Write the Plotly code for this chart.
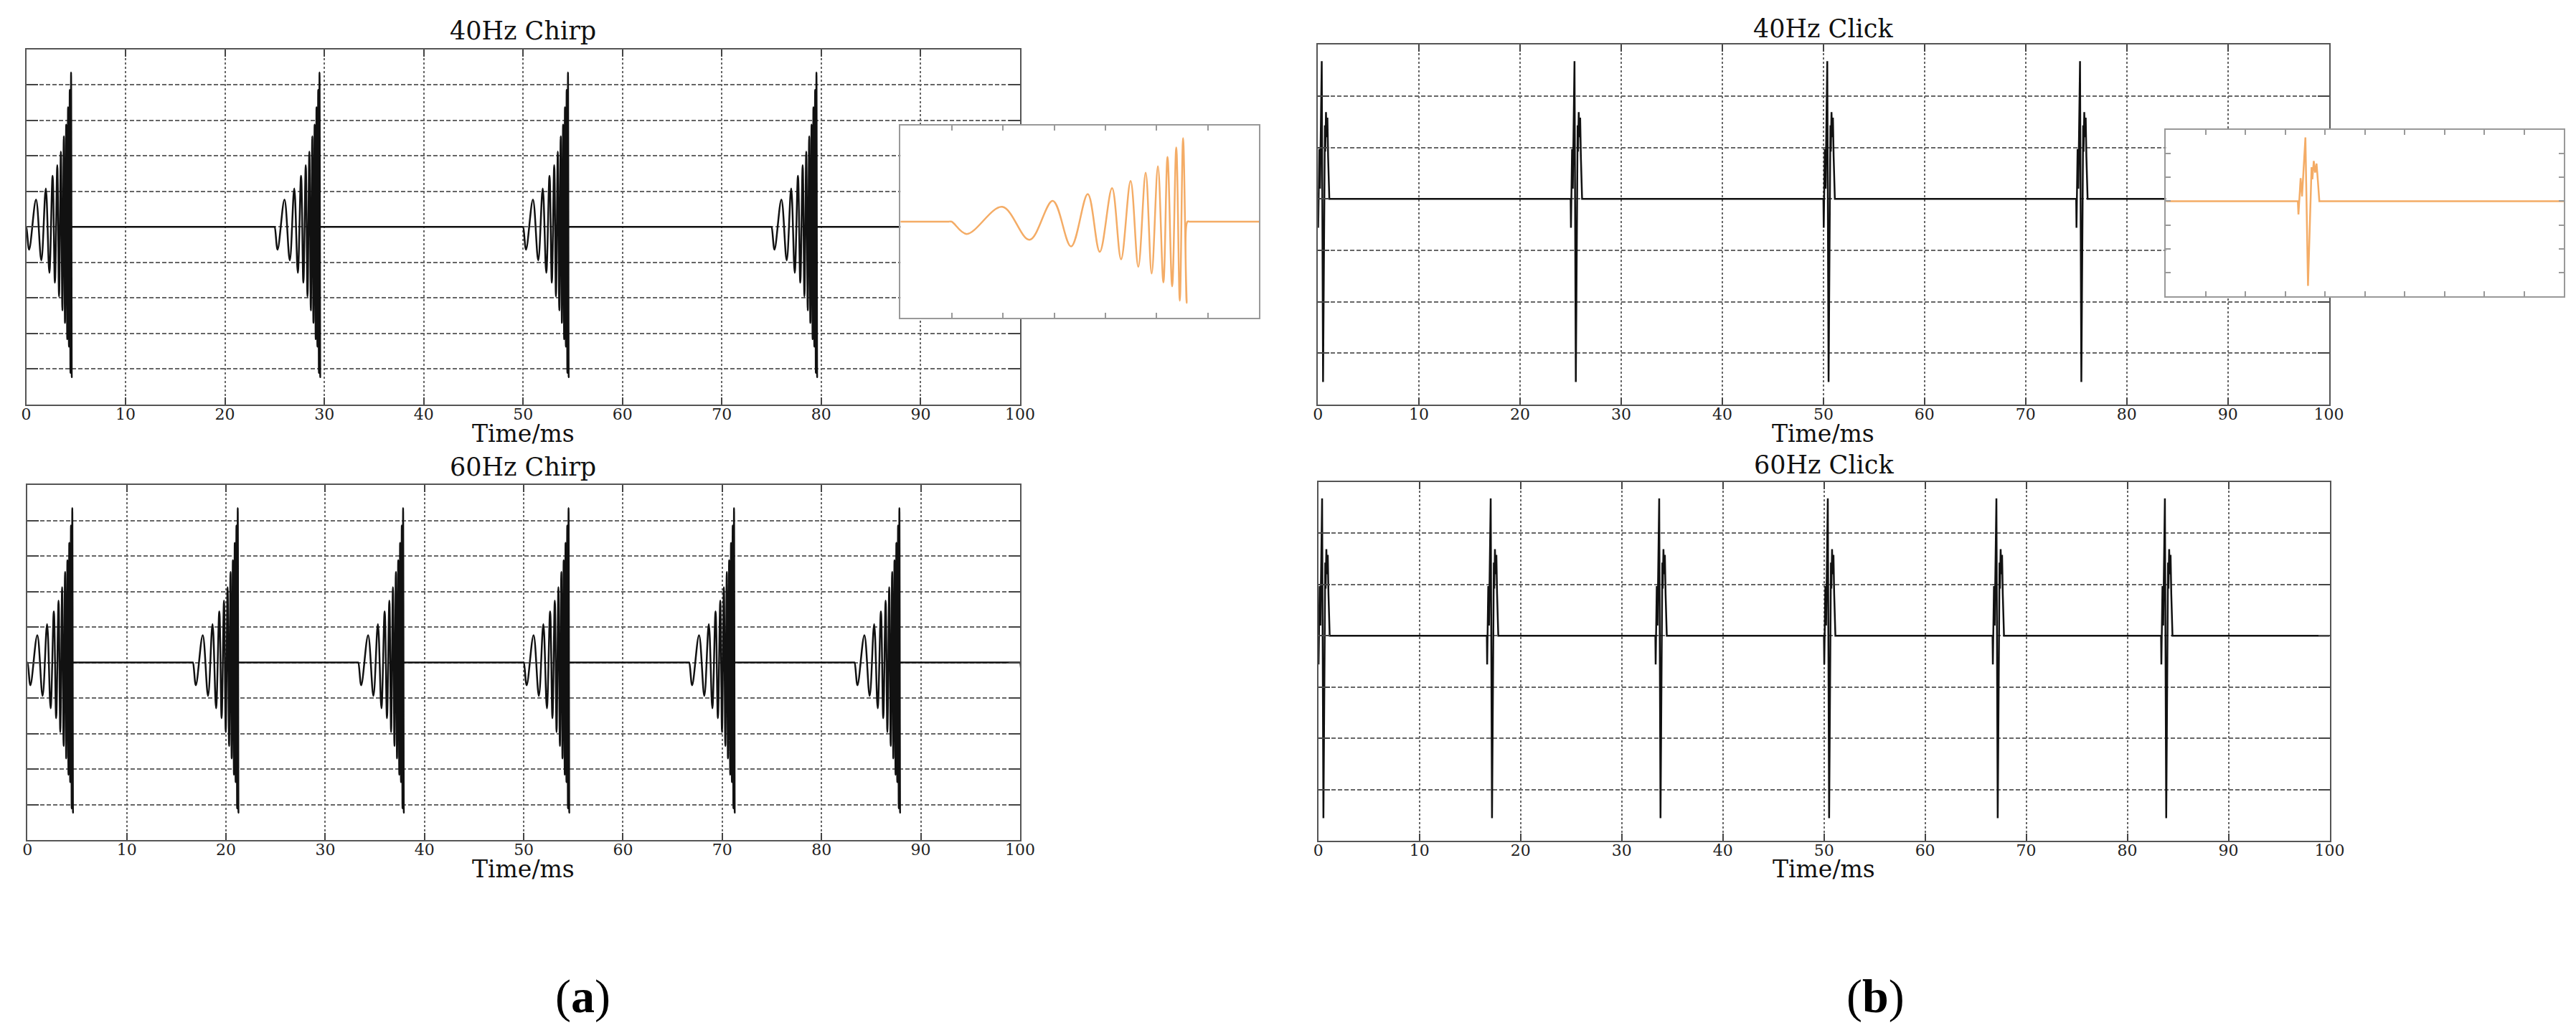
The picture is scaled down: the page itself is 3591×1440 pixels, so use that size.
import plotly.graph_objects as go

W, H = 3591, 1440

# ---------------- data ----------------
# One chirp burst: extrema, time after burst onset (ms) and amplitude (grid units)
chirp_t = [-0.05, 0.000, 0.293, 0.986, 1.519, 1.972, 2.329, 2.655, 2.889, 3.129, 3.305, 3.491,
           3.641, 3.785, 3.902, 4.024, 4.131, 4.211, 4.302, 4.382, 4.451, 4.515, 4.584,
           4.600, 4.650]
chirp_v = [0.00, 0.00, -0.64, 0.77, -0.94, 1.08, -1.29, 1.44, -1.57, 1.74, -1.96, 2.12,
           -2.35, 2.55, -2.70, 2.88, -3.16, 3.37, -3.37, 3.86, -4.11, 4.35, -4.23,
           0.00, 0.00]

# One click: time after click onset (ms) and amplitude (grid units)
click_t = [-0.05, 0.00, 0.03, 0.08, 0.14, 0.21, 0.38, 0.51, 0.69, 0.73, 0.80, 0.87,
           0.94, 1.01, 1.08, 1.13]
click_v = [0.00, 0.00, -0.56, 0.20, 0.97, 0.20, 2.68, -3.56, 1.43, 0.92, 1.69, 1.20,
           1.58, 0.82, 0.00, 0.00]

# Burst / click onset times (ms)
chirp40_onsets = [0, 25, 50, 75]
chirp60_onsets = [0, 16.67, 33.33, 50, 66.67, 83.33, 100]
click40_onsets = [0, 25, 50, 75]
click60_onsets = [0, 16.67, 33.33, 50, 66.67, 83.33]

titles = ["40Hz Chirp", "60Hz Chirp", "40Hz Click", "60Hz Click"]
x_title = "Time/ms"
panel_labels = ["(<b>a</b>)", "(<b>b</b>)"]
x_ticks = [0, 10, 20, 30, 40, 50, 60, 70, 80, 90, 100]


def tile(onsets, rel_t, rel_v, t_end=100):
    xs, ys = [], []
    for o in onsets:
        xs += [o + t for t in rel_t]
        ys += list(rel_v)
    xs.append(t_end)
    ys.append(0.0)
    return xs, ys


# ---------------- layout boxes (pixels: left, right, top, bottom) ----------------
boxes = {
    "a_top": (21.7, 1418, 60.7, 556),
    "a_bot": (23.5, 1418, 668, 1163),
    "b_top": (1836.5, 3257, 54.3, 556),
    "b_bot": (1837, 3258, 664, 1164),
    "ins_a": (1250, 1754, 167, 435),
    "ins_b": (3028, 3587, 173, 405),
}


def dom(box):
    l, r, t, b = box
    return [l / W, r / W], [1 - b / H, 1 - t / H]


FONT = "DejaVu Serif"
fig = go.Figure()

main_panels = [
    ("a_top", "x", "y", chirp40_onsets, chirp_t, chirp_v, [-5, 5], "spline"),
    ("a_bot", "x2", "y2", chirp60_onsets, chirp_t, chirp_v, [-5, 5], "spline"),
    ("b_top", "x3", "y3", click40_onsets, click_t, click_v, [-4, 3], "linear"),
    ("b_bot", "x4", "y4", click60_onsets, click_t, click_v, [-4, 3], "linear"),
]

layout = dict(
    width=W, height=H, margin=dict(l=0, r=0, t=0, b=0),
    paper_bgcolor="white", plot_bgcolor="white", showlegend=False,
)

for i, (key, xa, ya, ons, rt, rv, yr, shape) in enumerate(main_panels):
    xs, ys = tile(ons, rt, rv)
    fig.add_trace(go.Scatter(x=xs, y=ys, mode="lines", xaxis=xa, yaxis=ya,
                             line=dict(color="#111111", width=2.5, shape=shape),
                             hoverinfo="skip"))
    dx, dy = dom(boxes[key])
    xname = "xaxis" if xa == "x" else "xaxis" + xa[1:]
    yname = "yaxis" if ya == "y" else "yaxis" + ya[1:]
    layout[xname] = dict(
        domain=dx, anchor=ya, range=[0, 100], autorange=False,
        tickmode="array", tickvals=x_ticks, ticktext=[str(v) for v in x_ticks],
        showgrid=True, gridcolor="#666666", gridwidth=1.5, griddash="3px,3px",
        showline=True, linecolor="#555555", linewidth=2, mirror="ticks",
        ticks="inside", ticklen=10, tickwidth=2, tickcolor="#444444",
        ticklabelstandoff=-7,
        tickfont=dict(family=FONT, size=22, color="#222222"), zeroline=False,
    )
    layout[yname] = dict(
        domain=dy, anchor=xa, range=yr, autorange=False, dtick=1, tick0=0,
        showgrid=True, gridcolor="#666666", gridwidth=1.5, griddash="6px,3px",
        showline=True, linecolor="#555555", linewidth=2, mirror="ticks",
        ticks="inside", ticklen=16, tickwidth=2, tickcolor="#444444",
        showticklabels=False, zeroline=False,
    )

# ---------------- insets ----------------
# Inset a: one chirp burst
fig.add_trace(go.Scatter(x=chirp_t + [6.0], y=chirp_v + [0.0], mode="lines",
                         xaxis="x5", yaxis="y5",
                         line=dict(color="#F4AC66", width=2.5, shape="spline"),
                         hoverinfo="skip"))
fig.add_trace(go.Scatter(x=[-1.0, -0.05], y=[0.0, 0.0], mode="lines",
                         xaxis="x5", yaxis="y5",
                         line=dict(color="#F4AC66", width=2.5), hoverinfo="skip"))
dx, dy = dom(boxes["ins_a"])
layout["xaxis5"] = dict(domain=dx, anchor="y5", range=[-1, 6], autorange=False,
                        dtick=1, tick0=-1, showgrid=False, zeroline=False,
                        showline=True, linecolor="#999999", linewidth=2, mirror="ticks",
                        ticks="inside", ticklen=7, tickwidth=1.5, tickcolor="#999999",
                        showticklabels=False)
layout["yaxis5"] = dict(domain=dy, anchor="x5", range=[-5, 5], autorange=False,
                        showgrid=False, zeroline=False,
                        showline=True, linecolor="#999999", linewidth=2, mirror=True,
                        ticks="", showticklabels=False)

# Inset b: one click
fig.add_trace(go.Scatter(x=[-6.63] + click_t + [13.37], y=[0.0] + click_v + [0.0],
                         mode="lines", xaxis="x6", yaxis="y6",
                         line=dict(color="#F4AC66", width=2.5),
                         hoverinfo="skip"))
dx, dy = dom(boxes["ins_b"])
layout["xaxis6"] = dict(domain=dx, anchor="y6", range=[-6.63, 13.37], autorange=False,
                        dtick=2, tick0=-6.63, showgrid=False, zeroline=False,
                        showline=True, linecolor="#999999", linewidth=2, mirror="ticks",
                        ticks="inside", ticklen=7, tickwidth=1.5, tickcolor="#999999",
                        showticklabels=False)
layout["yaxis6"] = dict(domain=dy, anchor="x6", range=[-4, 3], autorange=False,
                        dtick=1, tick0=0, showgrid=False, zeroline=False,
                        showline=True, linecolor="#999999", linewidth=2, mirror="ticks",
                        ticks="inside", ticklen=7, tickwidth=1.5, tickcolor="#999999",
                        showticklabels=False)

# ---------------- text ----------------
ann = []
title_pos = [(720, 35), (720, 643), (2546, 32), (2547, 640)]
for txt, (px, py) in zip(titles, title_pos):
    ann.append(dict(text=txt, x=px / W, y=1 - py / H, xref="paper", yref="paper",
                    showarrow=False, xanchor="center", yanchor="middle",
                    font=dict(family=FONT, size=35, color="#111111")))
xt_pos = [(720, 596), (720, 1203), (2546, 596), (2547, 1203)]
for (px, py) in xt_pos:
    ann.append(dict(text=x_title, x=px / W, y=1 - py / H, xref="paper", yref="paper",
                    showarrow=False, xanchor="center", yanchor="middle",
                    font=dict(family=FONT, size=33, color="#111111")))
for txt, (px, py) in zip(panel_labels, [(804, 1381), (2620, 1381)]):
    ann.append(dict(text=txt, x=px / W, y=1 - py / H, xref="paper", yref="paper",
                    showarrow=False, xanchor="center", yanchor="middle",
                    font=dict(family="Liberation Serif", size=66, color="#000000")))
layout["annotations"] = ann

fig.update_layout(**layout)
fig.write_html("out.html")
